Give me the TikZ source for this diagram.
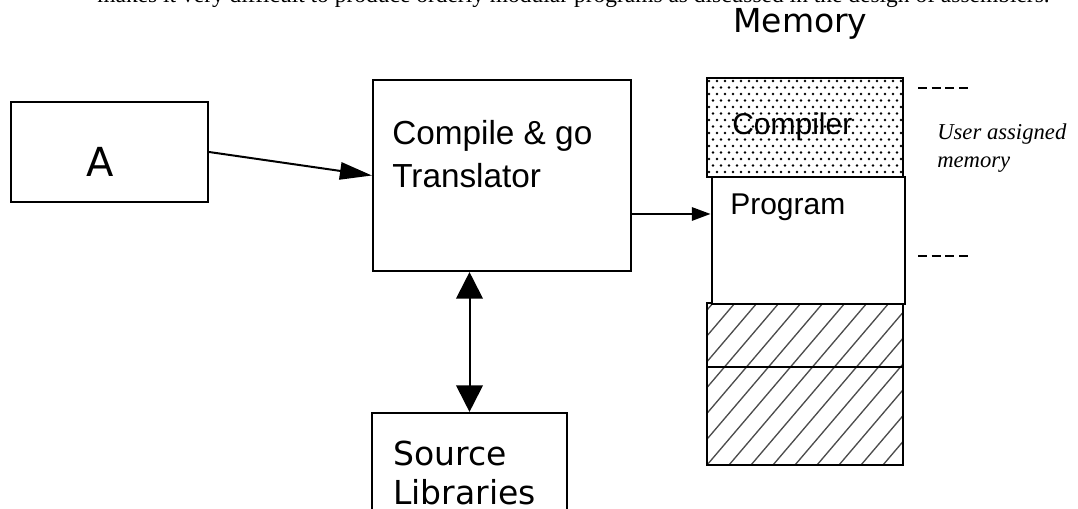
\documentclass[tikz,border=0pt]{standalone}
\usepackage{fontspec}
\setmainfont{Liberation Serif}
\newfontfamily\helvfont{Liberation Sans}
\newfontfamily\genfont{DejaVu Sans}
\usetikzlibrary{arrows.meta,fit}
\begin{document}
\begin{tikzpicture}[x=0.75pt,y=-0.75pt,
  box/.style={draw, line width=1.6pt, inner sep=0pt},
  membox/.style={draw, line width=2.2pt, inner sep=0pt},
  lbl/.style={inner sep=0pt, anchor=base west},
  helvtext/.style={font=\helvfont\fontsize{25}{29}\selectfont},
  helvsmall/.style={font=\helvfont\fontsize{22.5}{26}\selectfont},
  gentext/.style={font=\genfont\fontsize{24.75}{30}\selectfont},
  arr/.style={line width=1.5pt, -{Triangle[length=24pt,width=13pt]}},
  arrsmall/.style={line width=1.5pt, -{Triangle[length=14pt,width=10pt]}},
  dblarr/.style={line width=1.5pt, {Triangle[length=20pt,width=20pt]}-{Triangle[length=20pt,width=20pt]}},
  tick/.style={line width=1.5pt, dash pattern=on 6.75pt off 3.5pt}]
\useasboundingbox (0,0) rectangle (1078,509);

% running text of the page above the figure
\node[inner sep=0pt, anchor=base east, font=\fontsize{17.6}{21}\selectfont] (runtext) at (1050,3)
  {makes it very difficult to produce orderly modular programs as discussed in the design of assemblers.};

% input box
\node[box, fit={(11,102) (208,202)}] (a) {};
\node[inner sep=0pt, anchor=base, font=\genfont\fontsize{30}{36}\selectfont] (atext) at (100,177) {A};

% translator
\node[box, fit={(373,80) (631,271)}] (tr) {};
\node[lbl, helvtext] (tr1) at (392,145) {Compile \& go};
\node[lbl, helvtext] (tr2) at (392,188) {Translator};

% source libraries
\node[box, fit={(372,413) (567,540)}] (src) {};
\node[lbl, gentext] (src1) at (393,465) {Source};
\node[lbl, gentext] (src2) at (393,504) {Libraries};

% memory column
\node[lbl, gentext] (memtitle) at (733,33) {Memory};

% compiler region with dotted fill
\begin{scope}
  \clip (707,78) rectangle (903,177);
  \foreach \r in {0,...,15} {
    \foreach \c in {0,...,25} {
      \fill ({709+\c*8+mod(\r,2)*4},{81+\r*6.5}) circle (1pt);
    }
  }
\end{scope}
\node[membox, fit={(707,78) (903,177)}] (cm) {};
\node[lbl, helvsmall] (cmtext) at (732,135) {Compiler};

% hatched free memory
\begin{scope}
  \clip (707,303) rectangle (903,465);
  \foreach \k in {-8,...,10} {
    \draw[line width=1pt, black!70] ({707+\k*22},465) -- ({707+\k*22+138},303);
  }
\end{scope}
\node[membox, fit={(707,303) (903,367)}] (h1) {};
\node[membox, fit={(707,367) (903,465)}] (h2) {};

% program region
\node[membox, fill=white, fit={(712,177) (905,304)}] (pm) {};
\node[lbl, helvsmall] (pmtext) at (730,215) {Program};

% side notes
\coordinate (t1a) at (918,88);  \coordinate (t1b) at (969,88);
\coordinate (t2a) at (918,256); \coordinate (t2b) at (969,256);
\draw[tick] (t1a) -- (t1b);
\draw[tick] (t2a) -- (t2b);
\node[lbl, font=\itshape\fontsize{17}{21}\selectfont] (ua1) at (937,140) {User assigned};
\node[lbl, font=\itshape\fontsize{17}{21}\selectfont] (ua2) at (937,168) {memory};

% connectors
\draw[arr] (a.east) -- (tr.west);
\coordinate (pin) at (pm.west |- 0,214);
\draw[arrsmall] (tr.east |- pin) -- (pin);
\draw[dblarr] (tr.south -| src.north) -- (src.north);
\end{tikzpicture}
\end{document}
